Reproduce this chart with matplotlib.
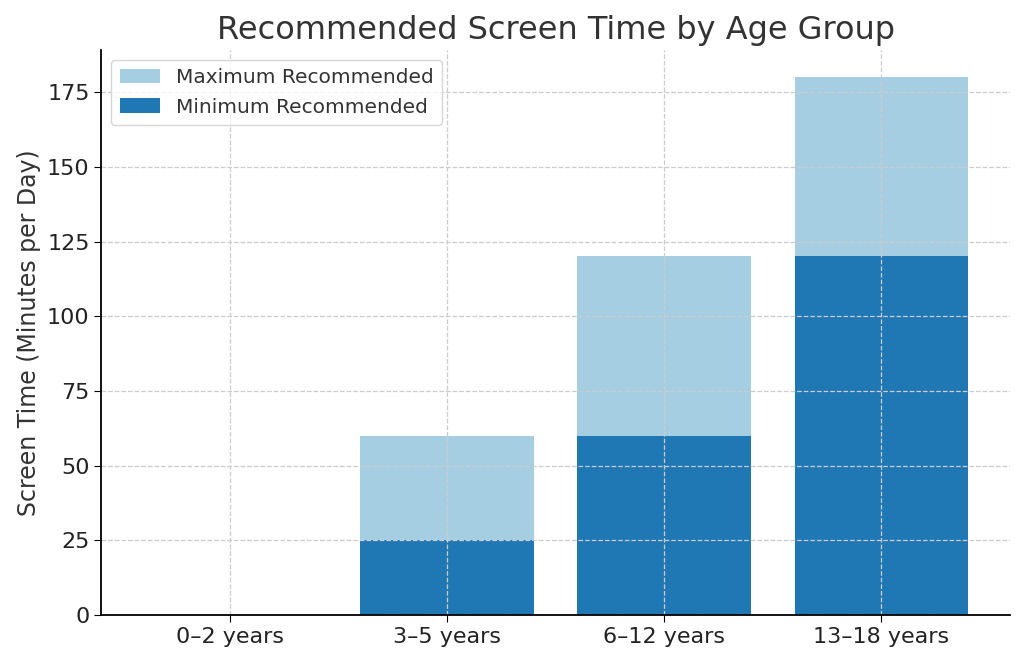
import matplotlib
matplotlib.use("Agg")
import matplotlib.pyplot as plt
import numpy as np

age_groups = ["0–2 years", "3–5 years", "6–12 years", "13–18 years"]
max_recommended = [0, 60, 120, 180]
min_recommended = [0, 25, 60, 120]

plt.rcParams['font.family'] = ['DejaVu Sans']
fig = plt.figure(figsize=(10.24, 6.62), dpi=100)
ax = fig.add_axes([0.099, 0.071, 0.887, 0.853])

x = np.arange(len(age_groups))
ax.bar(x, max_recommended, width=0.8, color="#a6cee3", label="Maximum Recommended")
ax.bar(x, min_recommended, width=0.8, color="#1f78b4", label="Minimum Recommended")

ax.set_xticks(x)
ax.set_xticklabels(age_groups)
ax.tick_params(axis='both', labelsize=16, labelcolor="#222222", length=5)
ax.set_ylabel("Screen Time (Minutes per Day)", fontsize=17, color="#333333")
ax.set_title("Recommended Screen Time by Age Group", fontsize=23, color="#333333", pad=8)
ax.set_yticks([0, 25, 50, 75, 100, 125, 150, 175])
ax.grid(True, linestyle="--", color="#cccccc", linewidth=0.9)
ax.spines['top'].set_visible(False)
ax.spines['right'].set_visible(False)
ax.spines['left'].set_linewidth(1.3)
ax.spines['bottom'].set_linewidth(1.3)
ax.legend(loc="upper left", fontsize=14.5, labelcolor="#333333")

fig.savefig("out.png", dpi=100)
